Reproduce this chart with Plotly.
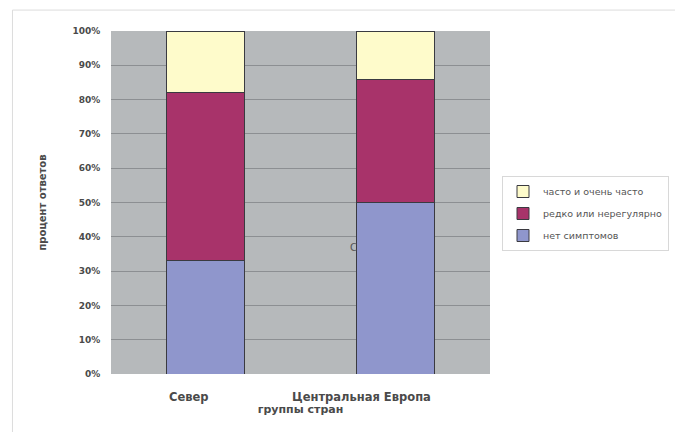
import plotly.graph_objects as go

categories = ["Север", "Центральная Европа"]
series_names = ["нет симптомов", "редко или нерегулярно", "часто и очень часто"]
no_symptoms = [33, 50]
rarely = [49, 36]
often = [18, 14]
y_ticks = [0, 10, 20, 30, 40, 50, 60, 70, 80, 90, 100]
y_tick_labels = [f"{v}%" for v in y_ticks]

colors = ["#8f96cc", "#a8336a", "#fefbcb"]
values = [no_symptoms, rarely, often]

FONT = "DejaVu Sans"
TXT = "#4a4a4a"

fig = go.Figure()
n = len(series_names)
for i, (name, vals, col) in enumerate(zip(series_names, values, colors)):
    fig.add_trace(go.Bar(
        x=categories, y=vals, name=name, width=0.41,
        legendgroup=f"g{i}", legendrank=(n - i) * 10,
        marker=dict(color=col, line=dict(color="#3a3a40", width=1)),
    ))

fig.update_layout(
    width=675, height=432,
    barmode="stack",
    paper_bgcolor="white",
    plot_bgcolor="#b6b9bb",
    margin=dict(l=111, r=183, t=31, b=58),
    font=dict(family=FONT, size=9, color=TXT),
    showlegend=True,
    legend=dict(
        x=502 / 675, y=1 - 176 / 432, xref="container", yref="container",
        xanchor="left", yanchor="top",
        traceorder="grouped",
        bgcolor="white", bordercolor="#d8d8d8", borderwidth=1,
        font=dict(family=FONT, size=9.5, color="#555555"),
        itemwidth=30, tracegroupgap=3,
    ),
    xaxis=dict(
        showticklabels=False, showgrid=False, ticks="",
        showline=False, zeroline=False,
        title=dict(text="<b>группы стран</b>", standoff=31,
                   font=dict(family=FONT, size=11, color=TXT)),
    ),
    yaxis=dict(
        range=[0, 100], tickvals=y_ticks, ticktext=y_tick_labels,
        showgrid=True, gridcolor="#8c8f92", gridwidth=1,
        zeroline=False, showline=False,
        ticks="outside", ticklen=8, tickcolor="rgba(0,0,0,0)",
        tickfont=dict(family=FONT, size=9, color=TXT, weight="bold"),
        title=dict(text="<b>процент ответов</b>", standoff=23,
                   font=dict(family=FONT, size=10, color=TXT)),
    ),
)

label_shifts = [-17, -34]
for cat, sh in zip(categories, label_shifts):
    fig.add_annotation(
        x=cat, xref="x", y=0, yref="paper", yanchor="top",
        text=f"<b>{cat}</b>", showarrow=False, xshift=sh, yshift=-14,
        font=dict(family=FONT, size=11.5, color=TXT),
    )

fig.add_annotation(
    x=0.64, y=0.37, xref="paper", yref="paper", text="С", showarrow=False,
    font=dict(family=FONT, size=10, color="#555555"),
)

fig.add_shape(
    type="rect", xref="paper", yref="paper",
    x0=-0.26, x1=1.6, y0=-0.3, y1=1.061,
    line=dict(color="#dcdcdc", width=1), fillcolor="rgba(0,0,0,0)",
    layer="below",
)

fig.write_html("out.html", config={"displayModeBar": False},
               post_script="document.body.style.margin='0px';")
